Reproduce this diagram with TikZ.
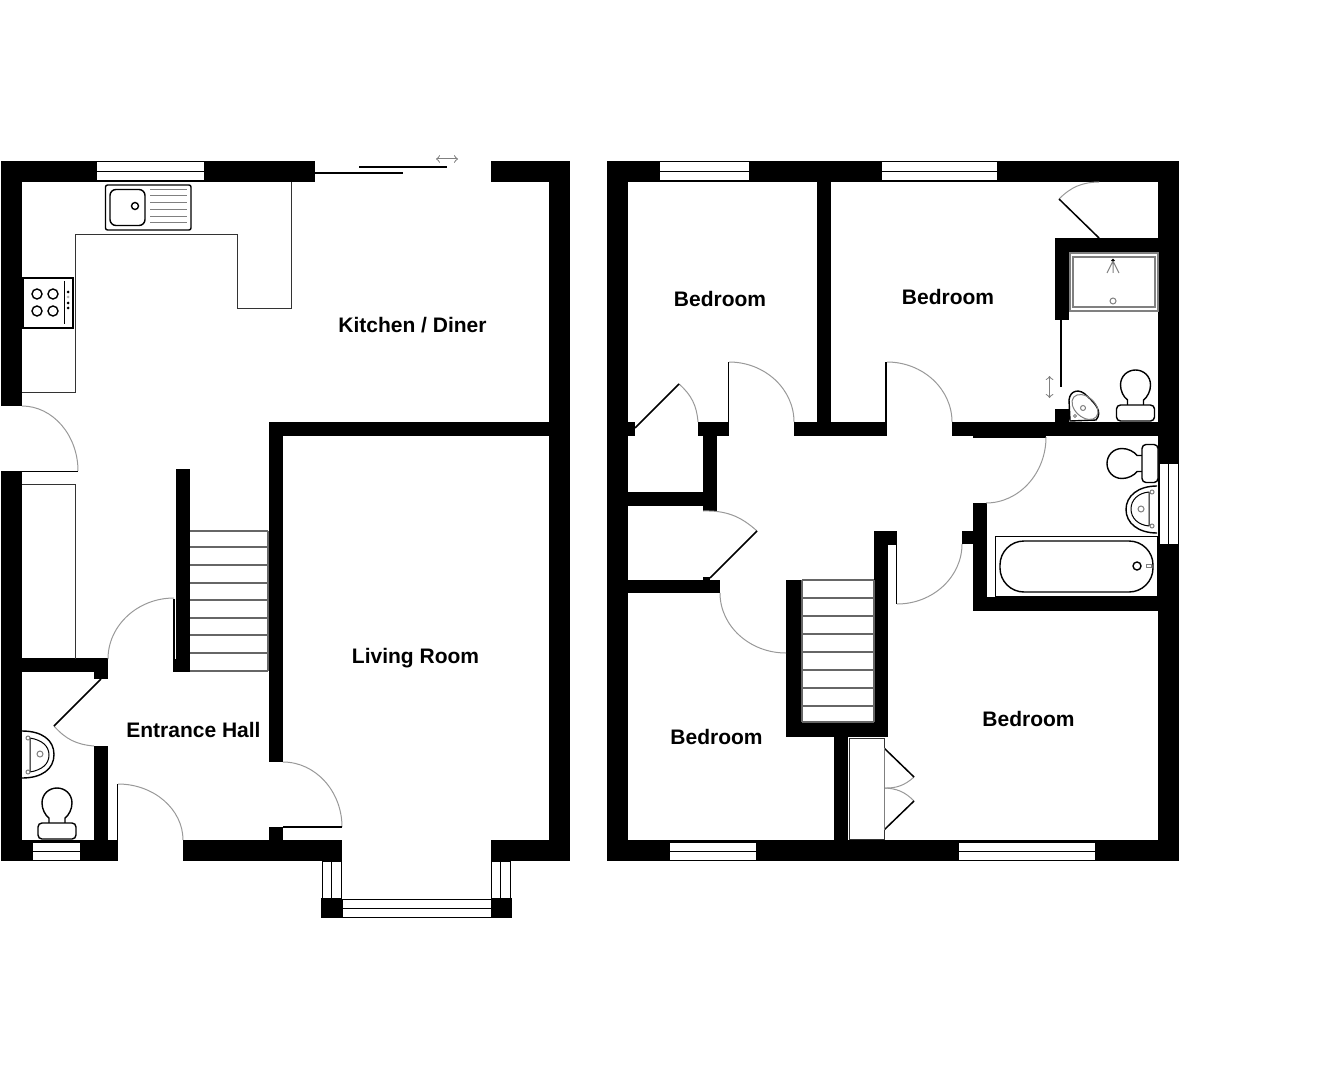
\documentclass[tikz,border=0pt]{standalone}
\usepackage{fontspec}
\setmainfont{Liberation Sans}
\usepackage{xcolor}
\usetikzlibrary{arrows}
\tikzset{loo/.pic={
\draw[draw=black,line width=0.7pt,fill=white] (-8,1) -- (-8,-5) .. controls (-12,-8) and (-15,-14) .. (-15,-20) .. controls (-15,-29) and (-8,-35) .. (0,-35) .. controls (8,-35) and (15,-29) .. (15,-20) .. controls (15,-14) and (12,-8) .. (8,-5) -- (8,1);
\draw[draw=black,line width=0.7pt,fill=white,rounded corners=2pt] (-19,0) rectangle (19,16);}}
\begin{document}
\begin{tikzpicture}[x=0.5pt,y=-0.5pt,
wall/.style={fill=black},
pane/.style={draw=black,line width=0.5pt,fill=white},
swing/.style={draw=black!40,line width=0.5pt},
leaf/.style={draw=black,line width=0.6pt},
unit/.style={draw=black!80,line width=0.5pt},
ware/.style={draw=black,line width=0.7pt,fill=white},
faint/.style={draw=black!50,line width=0.5pt},
tread/.style={draw=black!60,line width=0.6pt},
room/.style={font=\fontsize{10.5}{12}\selectfont\bfseries,inner sep=0pt}]
\useasboundingbox (0,0) rectangle (1336,1080);
\foreach \xa/\ya/\xb/\yb in {1/161/315/182,491/161/570/182,1/161/22/406,1/471/22/861,549/161/570/861,
269/422/549/436,269/422/283/762,269/827/283/841,183/840/342/861,491/840/570/861,176/469/190/672,
173/659/190/672,22/658/108/672,94/672/108/679,94/746/108/840,1/840/118/861,321/898/342/918,491/898/512/918,
607/161/1179/182,607/161/628/861,1158/161/1179/861,607/840/1179/861,817/182/831/422,628/422/635/436,
698/422/729/436,794/422/887/436,952/422/1158/436,973/436/1046/437.5,703/436/717/511,628/492/703/506,
628/580/720/593,703/577/710/580,786/580/802/737,787/722/888/737,874/531/888/737,874/531/897/545,
962/531/973/544,973/503/987/611,973/597/1158/611,834/737/848/840,1055/238/1158/252,1055/238/1069/320,
1055/409/1069/422}
  \fill[wall] (\xa,\ya) rectangle (\xb,\yb);
\foreach \xa/\xb/\ya/\yb in {96/204/162/181,32/80/842/860,342/491/899/917,659/749/162/181,881/997/162/181,
669/756/842/860,958/1095/842/860}
  \draw[pane] (\xa,\ya) rectangle (\xb,\yb) (\xa,{(\ya+\yb)/2}) -- (\xb,{(\ya+\yb)/2});
\foreach \xa/\xb/\ya/\yb in {322/341/861/898,491/510/861/898,1159/1178/463/544}
  \draw[pane] (\xa,\ya) rectangle (\xb,\yb) ({(\xa+\xb)/2},\ya) -- ({(\xa+\xb)/2},\yb);
\foreach \ax/\ay/\bx/\by in {22/406/78/471,174/598/108/659,118/784/183/840,283/762/342/827,729/362/794/422,
887/362/952/422,986/503/1046/437,897/604/962/544,786/653/720/593}
  \draw[swing] (\ax,\ay) .. controls ({\ax+.55*(\bx-\ax)},\ay) and (\bx,{\by-.55*(\by-\ay)}) .. (\bx,\by);
\draw[swing] (54,726) to[bend right=22] (94,746);
\draw[swing] (679,384) to[bend left=22] (698,422);
\draw[swing] (703,511) to[bend left=22] (757,531);
\draw[swing] (1059,199) to[bend left=22] (1099,182);
\draw[swing] (914,777) to[bend left=22] (884,788);
\draw[swing] (884,788) to[bend left=22] (914,801);
\foreach \xa/\ya/\xb/\yb in {22/471.5/78/471.5,174/599/174/660,117.5/784/117.5/840,283/827/342/827,
728.5/362/728.5/422,886/362/886/422,896.5/545/896.5/604,1061/320/1061/387,315/173/403/173,359/167/447/167}
  \draw[leaf] (\xa,\ya) -- (\xb,\yb);
\foreach \xa/\ya/\xb/\yb in {101/679/54/726,635/428/679/384,757/531/710/578,1059/199/1099/238,884/748/914/777,914/801/884/830}
  \draw[leaf,line width=0.75pt] (\xa,\ya) -- (\xb,\yb);
\draw[faint,<->] (436,159) -- (458,159);
\draw[faint,<->] (1049.5,376) -- (1049.5,398);
\draw[unit] (291,182) -- (291,308.5) -- (237,308.5) -- (237,235) -- (75,235) -- (75,392) -- (22,392);
\draw[unit] (22,484) -- (75.5,484) -- (75.5,659);
\draw[ware,rounded corners=1pt] (105.5,185) rectangle (191,230);
\draw[ware,rounded corners=3pt] (110,189.5) rectangle (145,225.5);
\draw[ware] (135,206) circle[radius=3.5];
\foreach \y in {189.5,196,203,210,216.5,223}
  \draw[faint] (150,\y) -- (187,\y);
\draw[ware] (23,278) rectangle (73,328);
\foreach \x in {37,53}
  \foreach \y in {294,311}
    \draw[ware] (\x,\y) circle[radius=5];
\draw[faint,black] (64.5,281) -- (64.5,324);
\foreach \y/\c in {292/black,297/black!30,303/black,308/black}
  \fill[\c] (68,\y) circle[radius=1.5];
\foreach \y in {531,547,565,583,600,618,635,653,671}
  \draw[tread] (190,\y) -- (268,\y);
\draw[tread] (268,531) -- (268,671);
\foreach \y in {580,598,616,634,652,670,688,706,722}
  \draw[tread] (802,\y) -- (874,\y);
\draw[tread] (802,580) -- (802,722) (874,580) -- (874,722);
\draw[unit,fill=white] (884,830) -- (884,839) -- (849,839) -- (849,738) -- (884,738) -- (884,748);
\draw[faint] (884,748) -- (884,830);
\draw[ware] (22,731) .. controls (42,731) and (54,740) .. (54,754.5) .. controls (54,769) and (42,778) .. (22,778);
\draw[faint,black] (30,738) -- (30,772) (30,738) .. controls (42,740) and (49,746) .. (49,755) .. controls (49,764) and (42,770) .. (30,772);
\foreach \y in {738,772}
  \draw[faint] (28,\y) circle[radius=2];
\draw[faint] (40,754) circle[radius=3];
\pic at (57,823) {loo};
\draw[faint,line width=0.8pt] (1070,253) rectangle (1158,311);
\draw[faint,line width=0.8pt] (1073,257) rectangle (1155,307);
\fill (1113,260.5) circle[radius=1.8];
\draw[faint] (1113,261) -- (1107,273) (1113,261) -- (1113,273) (1113,261) -- (1119,273);
\draw[faint] (1113,301) circle[radius=3];
\draw[ware] (1070,421) -- (1069,400) .. controls (1070,390) and (1080,388) .. (1087,396) .. controls (1095,403) and (1103,412) .. (1096,420) -- cycle;
\draw[faint,rotate around={-42:(1085,407)}] (1085,407) ellipse[x radius=15,y radius=10];
\draw[faint] (1083,408) circle[radius=2.5] (1075,416) circle[radius=1.5];
\pic at (1135.5,405) {loo};
\pic[rotate=90] at (1142,463.5) {loo};
\draw[ware] (1157,486) .. controls (1138,486) and (1126,496) .. (1126,509.5) .. controls (1126,523) and (1138,533) .. (1157,533);
\draw[faint,black] (1149,492) -- (1149,526) (1149,492) .. controls (1138,493) and (1131,500) .. (1131,509) .. controls (1131,518) and (1138,525) .. (1149,526);
\foreach \y in {492,526}
  \draw[faint] (1152,\y) circle[radius=2];
\draw[faint] (1141,509) circle[radius=3];
\draw[draw=black,line width=0.5pt,fill=white] (995,536) rectangle (1157,596);
\draw[ware,rounded corners=12pt] (1000,541) rectangle (1153,592);
\draw[ware] (1137,566) circle[radius=4];
\draw[faint] (1146,564.5) rectangle (1151,567.5);
\node[room] (kitchen) at (412.5,325.5) {Kitchen / Diner};
\node[room] (living) at (415.5,658.5) {Living Room};
\node[room] (hall) at (193.5,729.5) {Entrance Hall};
\node[room] (bedfront) at (720,298.5) {Bedroom};
\node[room] (bedmain) at (948,296.5) {Bedroom};
\node[room] (bedside) at (716.5,736.5) {Bedroom};
\node[room] (bedrear) at (1028.5,718.5) {Bedroom};
\end{tikzpicture}
\end{document}
